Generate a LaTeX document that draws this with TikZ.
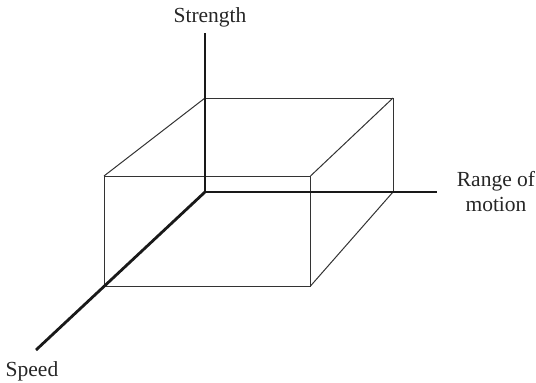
\documentclass[tikz,border=0pt]{standalone}
\usepackage{fontspec}
\setmainfont{Liberation Serif}
\begin{document}
\begin{tikzpicture}[x=1pt,y=-1pt,
  boxline/.style={draw=black!80,line width=1pt},
  axisline/.style={draw=black!90,line width=2.8pt},
  lbl/.style={font=\fontsize{21.5}{25}\selectfont,inner sep=0pt,anchor=base,text=black!85}]
\useasboundingbox (0,0) rectangle (536,383);
% corners
\coordinate (O) at (205,192);
\coordinate (BTL) at (205,98);
\coordinate (BTR) at (393,98);
\coordinate (BBR) at (393,192);
\coordinate (FTL) at (104,176);
\coordinate (FTR) at (310.5,176);
\coordinate (FBL) at (104.5,286);
\coordinate (FBR) at (310.5,286);
\coordinate (ZT) at (205,33);
\coordinate (XE) at (437,192);
\coordinate (YE) at (36,350);
% box
\draw[boxline] (FTL) rectangle (FBR);
\draw[boxline] (BTL) -- (BTR) -- (BBR);
\draw[boxline] (BTL) -- (FTL);
\draw[boxline] (BTR) -- (FTR);
\draw[boxline] (BBR) -- (FBR);
% axes
\draw[axisline] (ZT) -- (O);
\draw[axisline] (O) -- (XE);
\draw[axisline] (O) -- (YE);
% labels
\node[lbl] (strength) at (210,22) {Strength};
\node[lbl] (speed) at (32,376) {Speed};
\node[lbl] (range) at (496,186) {Range of};
\node[lbl] (motion) at (496,211) {motion};
\end{tikzpicture}
\end{document}
